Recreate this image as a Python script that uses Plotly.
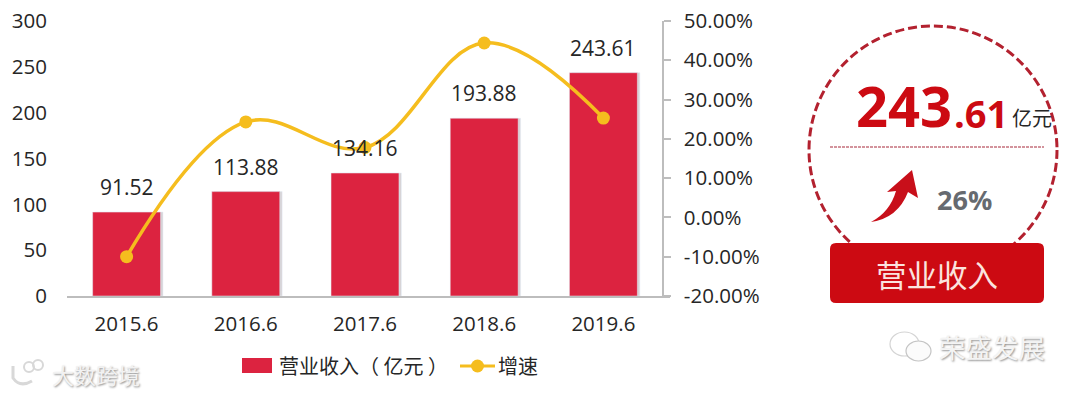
import plotly.graph_objects as go

categories = ["2015.6", "2016.6", "2017.6", "2018.6", "2019.6"]
revenue = [91.52, 113.88, 134.16, 193.88, 243.61]
growth = [-10.0, 24.3, 17.8, 44.4, 25.3]
left_ticks = [0, 50, 100, 150, 200, 250, 300]
right_ticks = [-20, -10, 0, 10, 20, 30, 40, 50]
right_labels = ["-20.00%", "-10.00%", "0.00%", "10.00%", "20.00%", "30.00%", "40.00%", "50.00%"]
bar_name = "营业收入（ 亿元 ）"
line_name = "增速"

W, H = 1080, 394
FONT = "Open Sans, Noto Sans CJK SC, sans-serif"
CJK = "Noto Sans CJK SC, sans-serif"
DARK = "#262626"
RED = "#cc0a12"
BAR = "#dc2340"
GOLD = "#f5bd1e"


def X(p):
    return p / W


def Y(p):
    return 1 - p / H


fig = go.Figure()
fig.add_bar(x=categories, y=revenue, width=0.57, offset=-0.265, marker_color="#d6d3d5",
            hoverinfo="skip", showlegend=False)
fig.add_bar(x=categories, y=revenue, width=0.57, offset=-0.285, marker_color=BAR, name=bar_name,
            showlegend=False)
fig.add_scatter(x=categories, y=growth, yaxis="y2", mode="lines+markers", name=line_name,
                line=dict(color=GOLD, width=3.5, shape="spline", smoothing=1.1),
                marker=dict(color=GOLD, size=13), showlegend=False, cliponaxis=False)

shapes = [
    dict(type="circle", xref="paper", yref="paper", x0=X(809), x1=X(1057), y0=Y(274), y1=Y(26),
         line=dict(color="#b3212f", width=3, dash="9px,4px")),
    dict(type="line", xref="paper", yref="paper", x0=X(830), x1=X(1044), y0=Y(147), y1=Y(147),
         line=dict(color="#a8283a", width=1.2, dash="3px,1px")),
    dict(type="path", xref="paper", yref="paper", fillcolor=RED, line=dict(width=0),
         path=(f"M{X(836)},{Y(243)} L{X(1038)},{Y(243)} Q{X(1044)},{Y(243)} {X(1044)},{Y(249)} "
               f"L{X(1044)},{Y(297)} Q{X(1044)},{Y(303)} {X(1038)},{Y(303)} "
               f"L{X(836)},{Y(303)} Q{X(830)},{Y(303)} {X(830)},{Y(297)} "
               f"L{X(830)},{Y(249)} Q{X(830)},{Y(243)} {X(836)},{Y(243)} Z")),
    dict(type="path", xref="paper", yref="paper", fillcolor="#c80f1a", line=dict(width=0),
         path=(f"M{X(871)},{Y(222)} Q{X(890)},{Y(212)} {X(896)},{Y(191)} L{X(887)},{Y(192)} "
               f"L{X(912)},{Y(170)} L{X(918)},{Y(198)} L{X(908)},{Y(192)} "
               f"Q{X(898)},{Y(218)} {X(871)},{Y(222)} Z")),
    dict(type="rect", xref="paper", yref="paper", x0=X(242), x1=X(272), y0=Y(373), y1=Y(358),
         fillcolor=BAR, line=dict(width=0)),
    dict(type="line", xref="paper", yref="paper", x0=X(460), x1=X(495), y0=Y(366), y1=Y(366),
         line=dict(color=GOLD, width=3)),
    dict(type="circle", xref="paper", yref="paper", x0=X(471), x1=X(484), y0=Y(372.5), y1=Y(359.5),
         fillcolor=GOLD, line=dict(width=0)),
    dict(type="circle", xref="paper", yref="paper", x0=X(890), x1=X(919), y0=Y(356), y1=Y(332),
         fillcolor="rgba(255,255,255,0.6)", line=dict(color="#d4d4d4", width=1.2)),
    dict(type="circle", xref="paper", yref="paper", x0=X(906), x1=X(931), y0=Y(361), y1=Y(341),
         fillcolor="#fbfbfb", line=dict(color="#c4c4c4", width=1.2)),
    dict(type="circle", xref="paper", yref="paper", x0=X(24), x1=X(34), y0=Y(372), y1=Y(362),
         line=dict(color="#d8d8d8", width=2)),
    dict(type="circle", xref="paper", yref="paper", x0=X(33), x1=X(43), y0=Y(370), y1=Y(360),
         line=dict(color="#d8d8d8", width=2)),
    dict(type="path", xref="paper", yref="paper", line=dict(color="#d8d8d8", width=3),
         path=f"M{X(13)},{Y(366)} L{X(13)},{Y(378)} Q{X(20)},{Y(388)} {X(32)},{Y(381)}"),
]


def note(text, x, y, size, color=DARK, family=FONT, anchor="center", bold=False, shadow=None):
    f = dict(size=size, color=color, family=family)
    if bold:
        f["weight"] = 700
    if shadow:
        f["shadow"] = shadow
    return dict(text=text, x=X(x), y=Y(y), xref="paper", yref="paper", showarrow=False,
                xanchor=anchor, yanchor="middle", font=f)


annotations = [
    note("243", 854, 105, 56, color=RED, anchor="left", bold=True),
    note(".61", 952, 113, 38, color=RED, anchor="left", bold=True),
    note("亿元", 1010, 117, 20, family=CJK, anchor="left"),
    note("26%", 964, 199, 27, color="#666a70", bold=True),
    note("营业收入", 937, 274, 30.5, color="#fbe3df", family=CJK),
    note(bar_name, 277, 365, 20, family=CJK, anchor="left"),
    note(line_name, 496, 365, 20, family=CJK, anchor="left"),
    note("大数跨境", 50, 374, 22, color="#f2f2f2", family=CJK, anchor="left", shadow="1px 1px 2px #8f8f8f"),
    note("荣盛发展", 937, 346, 26.5, color="#f4f4f4", family=CJK, anchor="left", shadow="1px 1px 2px #8f8f8f"),
]
# the category names look numeric, so annotations address the category axis by index
for i, v in enumerate(revenue):
    annotations.append(dict(text=f"{v:.2f}", x=i, y=v, xref="x", yref="y", yanchor="bottom",
                            yshift=9, showarrow=False, font=dict(size=21, color=DARK, family=FONT)))

fig.update_layout(
    width=W, height=H, autosize=False,
    margin=dict(l=0, r=0, t=0, b=0),
    paper_bgcolor="#ffffff", plot_bgcolor="#ffffff",
    barmode="overlay", bargap=0.43,
    showlegend=False,
    font=dict(family=FONT, color=DARK, size=20),
    xaxis=dict(domain=[X(67), X(670)], range=[-0.5, 4.5 + 7 / 119.2], type="category",
               showgrid=False, showline=True, linecolor="#bdbdbd", linewidth=1.5, automargin=False,
               ticks="", tickfont=dict(size=20.5, color=DARK), ticklabelstandoff=9, zeroline=False),
    yaxis=dict(domain=[Y(296), Y(21)], range=[0, 300], tickvals=left_ticks, showgrid=False, automargin=False,
               showline=False, ticks="", zeroline=False, tickfont=dict(size=20.5, color=DARK),
               ticklabelstandoff=19, ticklabeloverflow="allow"),
    yaxis2=dict(overlaying="y", side="right", anchor="free", position=X(663), range=[-20, 50],
                tickvals=right_ticks, ticktext=right_labels, showgrid=False, zeroline=False,
                showline=True, linecolor="#bdbdbd", linewidth=1.5, automargin=False,
                ticks="outside", ticklen=7, tickcolor="#bdbdbd", tickwidth=1.5,
                tickfont=dict(size=20.5, color=DARK), ticklabelstandoff=9, ticklabeloverflow="allow"),
    shapes=shapes,
    annotations=annotations,
)

fig.write_html("out.html", config={"displayModeBar": False},
               post_script="document.body.style.margin='0';")
